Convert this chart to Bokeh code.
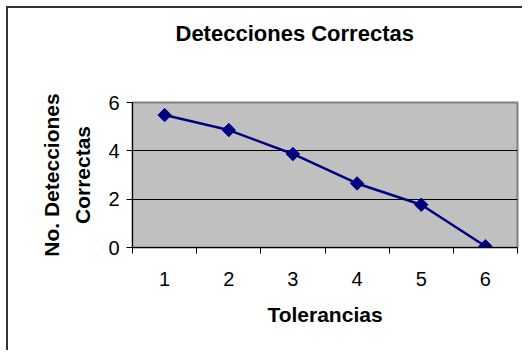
from bokeh.plotting import figure
from bokeh.models import FixedTicker, Range1d, Title, ColumnDataSource
from bokeh.embed import file_html
from bokeh.resources import INLINE
import math

tolerancias = [1, 2, 3, 4, 5, 6]
detecciones = [5.48, 4.86, 3.87, 2.65, 1.77, 0.05]
y_ticks = [0, 2, 4, 6]
x_bounds = [0.5, 1.5, 2.5, 3.5, 4.5, 5.5, 6.5]

FONT = "Liberation Sans"

p = figure(width=516, height=344, output_backend="svg", toolbar_location=None,
           x_range=Range1d(0.5, 6.5), y_range=Range1d(0, 6),
           min_border_left=124, min_border_right=7, min_border_top=94, min_border_bottom=105,
           title=None)
p.styles = {"border-left": "2px solid #333333", "border-top": "2px solid #333333",
            "margin-left": "6px", "margin-top": "6px"}

p.background_fill_color = "#C0C0C0"
p.border_fill_color = "white"
p.outline_line_color = "#808080"
p.outline_line_width = 2

# spacer between frame and title (above panels stack outward from the frame)
spacer = Title(text=" ", text_font=FONT, text_font_size="1px", standoff=54)
p.add_layout(spacer, "above")
t = Title(text="Detecciones Correctas", text_font=FONT, text_font_size="22px",
          text_font_style="bold", text_color="black", align="left", offset=43, standoff=0)
p.add_layout(t, "above")

src = ColumnDataSource(dict(x=tolerancias, y=detecciones))
p.line("x", "y", source=src, line_color="#000080", line_width=2.5)
p.scatter("x", "y", source=src, marker="square", size=9.5, angle=math.pi / 4,
          fill_color="#000080", line_color="#000080")

# x axis
p.xaxis.ticker = FixedTicker(ticks=tolerancias, minor_ticks=x_bounds)
p.xaxis.major_tick_line_color = None
p.xaxis.minor_tick_line_color = "black"
p.xaxis.minor_tick_out = 6
p.xaxis.minor_tick_in = 0
p.xaxis.axis_line_color = "black"
p.xaxis.major_label_text_font = FONT
p.xaxis.major_label_text_font_size = "20px"
p.xaxis.major_label_text_color = "black"
p.xaxis.major_label_standoff = 18
p.xaxis.axis_label = "Tolerancias"
p.xaxis.axis_label_text_font = FONT
p.xaxis.axis_label_text_font_size = "21px"
p.xaxis.axis_label_text_font_style = "bold"
p.xaxis.axis_label_text_color = "black"
p.xaxis.axis_label_standoff = 14

# y axis
p.yaxis.ticker = FixedTicker(ticks=y_ticks, minor_ticks=[])
p.yaxis.major_tick_line_color = "black"
p.yaxis.major_tick_out = 6
p.yaxis.major_tick_in = 0
p.yaxis.minor_tick_line_color = None
p.yaxis.axis_line_color = "black"
p.yaxis.major_label_text_font = FONT
p.yaxis.major_label_text_font_size = "20px"
p.yaxis.major_label_text_color = "black"
p.yaxis.major_label_standoff = 7
p.yaxis.axis_label = "No. Detecciones\nCorrectas"
p.yaxis.axis_label_text_font = FONT
p.yaxis.axis_label_text_font_size = "21px"
p.yaxis.axis_label_text_font_style = "bold"
p.yaxis.axis_label_text_color = "black"
p.yaxis.axis_label_text_line_height = 1.35
p.yaxis.axis_label_standoff = 11

p.xgrid.grid_line_color = None
p.ygrid.grid_line_color = "black"
p.ygrid.grid_line_width = 1

open("out.html", "w").write(file_html(p, INLINE))
